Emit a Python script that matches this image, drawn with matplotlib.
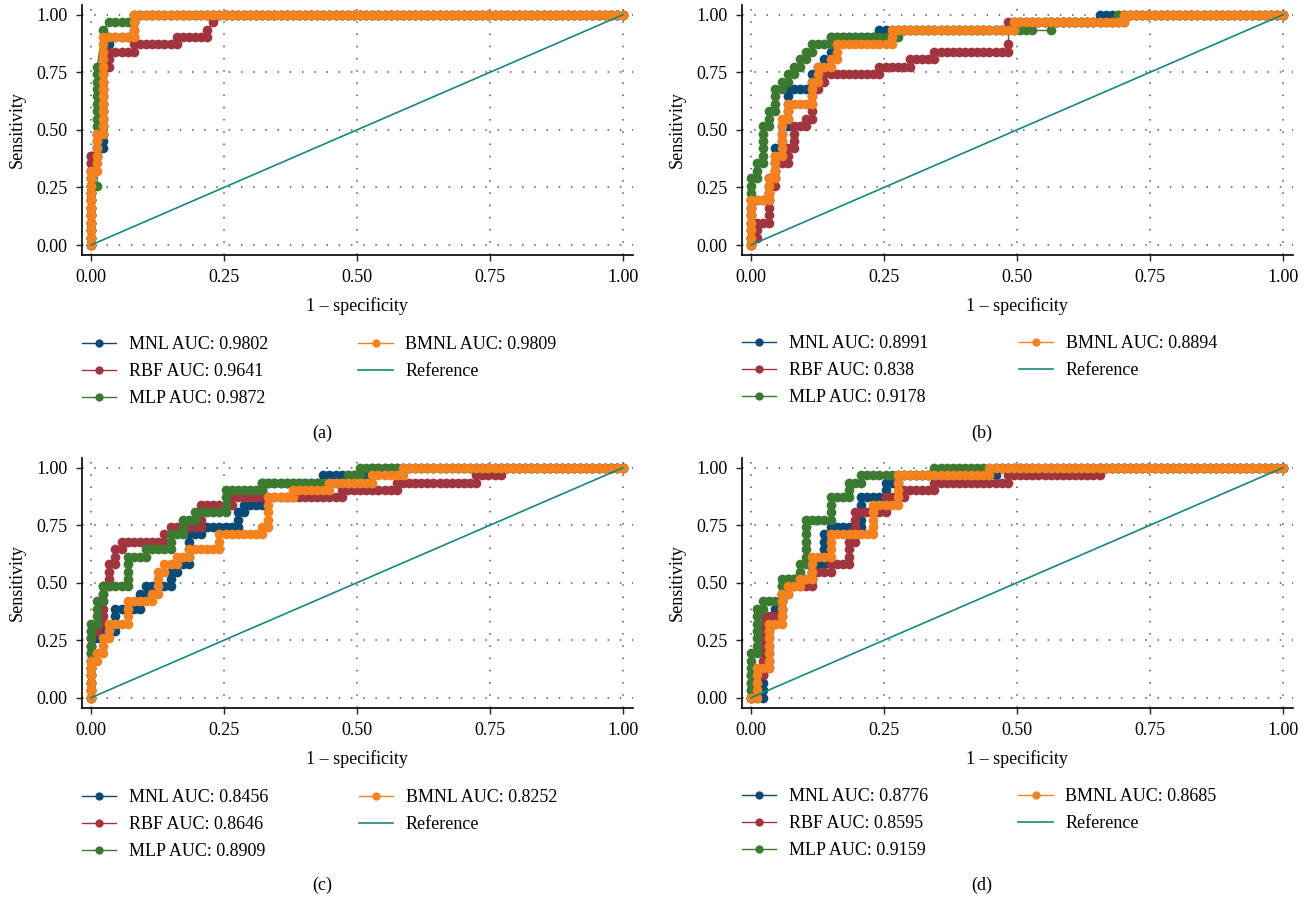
import numpy as np
import matplotlib
matplotlib.use("Agg")
import matplotlib.pyplot as plt

"""
ROC curves of the four classifiers (MNL, RBF, MLP, BMNL) for the four
outcome categories, one panel per category.
Each curve is stored as run-length encoded steps through the ranked
test cases: (repeat, d_negatives, d_positives).
"""

N_NEG = 87
N_POS = 31

models = ["MNL", "RBF", "MLP", "BMNL"]
colors = ["#0b4a75", "#a0353f", "#3b7a30", "#f4821f"]
ref_color = "#17867e"

# panel (a)
mnl_a = [(12, 0, 1), (1, 1, 0), (1, 0, 1), (1, 1, 0), (13, 0, 1), (1, 1, 0), (2, 0, 1),
         (4, 1, 0), (3, 0, 1), (80, 1, 0)]
rbf_a = [(12, 0, 1), (1, 1, 0), (3, 0, 1), (1, 1, 0), (9, 0, 1), (1, 1, 0), (2, 0, 1),
         (4, 1, 0), (1, 0, 1), (7, 1, 0), (1, 0, 1), (5, 1, 0), (1, 0, 1), (1, 1, 1),
         (1, 0, 1), (67, 1, 0)]
mlp_a = [(8, 0, 1), (1, 1, 0), (1, 0, 7), (9, 0, 1), (1, 1, 5), (1, 1, 1), (4, 1, 0),
         (1, 0, 1), (80, 1, 0)]
bmnl_a = [(10, 0, 1), (1, 1, 0), (5, 0, 1), (1, 1, 0), (13, 0, 1), (5, 1, 0), (3, 0, 1),
          (80, 1, 0)]
auc_a = [0.9802, 0.9641, 0.9872, 0.9809]

# panel (b)
mnl_b = [(6, 0, 1), (3, 1, 0), (3, 0, 1), (1, 1, 0), (4, 0, 1), (1, 1, 0), (3, 0, 1),
         (1, 1, 0), (5, 0, 1), (4, 1, 0), (2, 0, 1), (1, 1, 0), (1, 0, 1), (1, 1, 0),
         (1, 0, 1), (1, 1, 0), (3, 0, 1), (8, 1, 0), (1, 0, 1), (22, 1, 0), (1, 0, 1),
         (14, 1, 0), (1, 0, 1), (30, 1, 0)]
rbf_b = [(1, 0, 1), (1, 1, 0), (2, 0, 1), (2, 1, 0), (5, 0, 1), (1, 1, 0), (3, 0, 1),
         (2, 1, 0), (2, 0, 1), (1, 1, 0), (3, 0, 1), (2, 1, 0), (1, 0, 1), (1, 1, 0),
         (4, 0, 1), (1, 1, 0), (1, 0, 1), (1, 1, 0), (1, 0, 1), (9, 1, 0), (1, 0, 1),
         (5, 1, 0), (1, 0, 1), (4, 1, 0), (1, 0, 1), (12, 1, 0), (1, 0, 1), (1, 0, 3),
         (19, 1, 0), (1, 0, 1), (26, 1, 0)]
mlp_b = [(9, 0, 1), (1, 1, 0), (2, 0, 1), (1, 1, 0), (5, 0, 1), (1, 1, 0), (2, 0, 1),
         (1, 1, 0), (3, 0, 1), (1, 1, 0), (1, 0, 1), (1, 1, 0), (1, 0, 1), (1, 1, 0),
         (1, 0, 1), (1, 1, 0), (1, 0, 1), (1, 1, 0), (1, 0, 1), (1, 1, 0), (1, 0, 1),
         (3, 1, 0), (1, 0, 1), (11, 1, 0), (1, 0, 1), (22, 1, 0), (1, 3, 0), (1, 0, 1),
         (11, 1, 0), (1, 0, 1), (27, 1, 0)]
bmnl_b = [(6, 0, 1), (3, 1, 0), (3, 0, 1), (1, 1, 0), (3, 0, 1), (1, 1, 0), (5, 0, 1),
          (1, 1, 0), (2, 0, 1), (4, 1, 0), (3, 0, 1), (1, 1, 0), (2, 0, 1), (2, 1, 0),
          (1, 0, 1), (1, 1, 0), (2, 0, 1), (9, 1, 0), (2, 0, 1), (20, 1, 0), (1, 0, 1),
          (18, 1, 0), (1, 0, 1), (26, 1, 0)]
auc_b = [0.8991, 0.838, 0.9178, 0.8894]

# panel (c)
mnl_c = [(8, 0, 1), (1, 1, 0), (1, 0, 1), (3, 1, 0), (3, 0, 1), (4, 1, 0), (2, 0, 1),
         (1, 1, 0), (1, 0, 1), (4, 1, 0), (2, 0, 1), (1, 1, 0), (1, 0, 1), (2, 1, 0),
         (4, 0, 1), (2, 1, 0), (1, 0, 1), (6, 1, 0), (2, 0, 1), (1, 1, 0), (1, 0, 1),
         (3, 1, 0), (3, 0, 1), (10, 1, 0), (1, 0, 1), (8, 1, 0), (1, 0, 1), (41, 1, 0)]
rbf_c = [(9, 0, 1), (1, 1, 0), (1, 0, 1), (1, 1, 0), (5, 0, 1), (1, 1, 0), (3, 0, 1),
         (1, 1, 0), (2, 0, 1), (1, 1, 0), (1, 0, 1), (7, 1, 0), (1, 0, 1), (1, 1, 0),
         (1, 0, 1), (5, 1, 0), (3, 0, 1), (5, 1, 0), (1, 0, 1), (18, 1, 0), (1, 0, 1),
         (9, 1, 0), (1, 0, 1), (13, 1, 0), (1, 0, 1), (4, 1, 0), (1, 0, 1), (20, 1, 0)]
mlp_c = [(10, 0, 1), (1, 1, 0), (3, 0, 1), (1, 1, 0), (2, 0, 1), (4, 1, 0), (4, 0, 1),
         (3, 1, 0), (1, 0, 1), (4, 1, 0), (2, 0, 1), (2, 1, 0), (2, 0, 1), (2, 1, 0),
         (1, 0, 1), (5, 1, 0), (3, 0, 1), (6, 1, 0), (1, 0, 1), (14, 1, 0), (1, 0, 1),
         (2, 1, 0), (1, 0, 1), (43, 1, 0)]
bmnl_c = [(5, 0, 1), (1, 1, 0), (1, 0, 1), (1, 1, 0), (2, 0, 1), (1, 1, 0), (2, 0, 1),
          (3, 1, 0), (3, 0, 1), (4, 1, 0), (1, 0, 1), (1, 1, 0), (3, 0, 1), (1, 1, 0),
          (1, 0, 1), (2, 1, 0), (1, 0, 1), (2, 1, 0), (1, 0, 1), (5, 1, 0), (2, 0, 1),
          (7, 1, 0), (1, 0, 1), (1, 1, 0), (4, 0, 1), (4, 1, 0), (1, 0, 1), (6, 1, 0),
          (1, 0, 1), (7, 1, 0), (1, 0, 1), (5, 1, 0), (1, 0, 1), (36, 1, 0)]
auc_c = [0.8456, 0.8646, 0.8909, 0.8252]

# panel (d)
mnl_d = [(2, 1, 0), (4, 0, 1), (1, 1, 0), (6, 0, 1), (1, 1, 0), (2, 0, 1), (1, 1, 0),
         (2, 0, 1), (1, 1, 0), (2, 0, 1), (4, 1, 0), (2, 0, 1), (2, 1, 0), (4, 0, 1),
         (1, 1, 0), (1, 0, 1), (5, 1, 0), (4, 0, 1), (4, 1, 0), (2, 0, 1), (2, 1, 0),
         (1, 0, 1), (16, 1, 0), (1, 0, 1), (47, 1, 0)]
rbf_d = [(3, 0, 1), (2, 1, 0), (8, 0, 1), (3, 1, 0), (4, 0, 1), (5, 1, 0), (2, 0, 1),
         (3, 1, 0), (1, 0, 1), (3, 1, 0), (3, 0, 1), (1, 1, 0), (4, 0, 1), (5, 1, 0),
         (2, 0, 1), (3, 1, 0), (1, 0, 1), (5, 1, 0), (1, 0, 1), (12, 1, 0), (1, 0, 1),
         (15, 1, 0), (1, 0, 1), (30, 1, 0)]
mlp_d = [(6, 0, 1), (1, 1, 0), (6, 0, 1), (1, 1, 0), (1, 0, 1), (3, 1, 0), (3, 0, 1),
         (3, 1, 0), (2, 0, 1), (1, 1, 0), (6, 0, 1), (4, 1, 0), (3, 0, 1), (3, 1, 0),
         (2, 0, 1), (2, 1, 0), (1, 0, 1), (12, 1, 0), (1, 0, 1), (57, 1, 0)]
bmnl_d = [(1, 1, 0), (4, 0, 1), (2, 1, 0), (6, 0, 1), (2, 1, 0), (4, 0, 1), (1, 1, 0),
          (1, 0, 1), (2, 1, 0), (1, 0, 1), (2, 1, 0), (3, 0, 1), (3, 1, 0), (3, 0, 1),
          (7, 1, 0), (4, 0, 1), (4, 1, 0), (4, 0, 1), (15, 1, 0), (1, 0, 1), (48, 1, 0)]
auc_d = [0.8776, 0.8595, 0.9159, 0.8685]

panels = [
    ("(a)", [mnl_a, rbf_a, mlp_a, bmnl_a], auc_a),
    ("(b)", [mnl_b, rbf_b, mlp_b, bmnl_b], auc_b),
    ("(c)", [mnl_c, rbf_c, mlp_c, bmnl_c], auc_c),
    ("(d)", [mnl_d, rbf_d, mlp_d, bmnl_d], auc_d),
]

ticks = [0.0, 0.25, 0.5, 0.75, 1.0]

plt.rcParams["font.family"] = ["Liberation Serif", "DejaVu Serif"]

W, H = 1314, 902
FS = 13


def roc_points(runs):
    """Expand run-length steps into (1 - specificity, sensitivity) points."""
    steps = []
    for n, dx, dy in runs:
        steps += [(dx, dy)] * n
    xy = np.vstack([[0, 0], np.cumsum(steps, axis=0)])
    assert xy[-1, 0] == N_NEG and xy[-1, 1] == N_POS, xy[-1]
    return xy[:, 0] / N_NEG, xy[:, 1] / N_POS


def px_rect(left, top, right, bottom):
    return [left / W, 1 - bottom / H, (right - left) / W, (bottom - top) / H]


def draw_panel(fig, rect, curves, aucs, caption, legend_xy, caption_xy):
    ax = fig.add_axes(px_rect(*rect))
    for name, runs, auc, c in zip(models, curves, aucs, colors):
        fpr, tpr = roc_points(runs)
        ax.plot(fpr, tpr, '-o', color=c, lw=1.0, ms=7.0, mew=0,
                label=f"{name} AUC: {auc:g}")
    ax.plot([0, 1], [0, 1], '-', color=ref_color, lw=1.2, label="Reference")

    ax.set_xlim(-0.0175, 1.0188)
    ax.set_ylim(-0.0434, 1.0421)
    ax.set_xticks(ticks)
    ax.set_yticks(ticks)
    ax.set_xticklabels([f"{t:.2f}" for t in ticks])
    ax.set_yticklabels([f"{t:.2f}" for t in ticks])
    ax.tick_params(labelsize=FS, length=4, width=1.0, pad=6, color="#222222")
    for s in ["top", "right"]:
        ax.spines[s].set_visible(False)
    for s in ["left", "bottom"]:
        ax.spines[s].set_linewidth(1.2)
    ax.grid(True, color="#555555", lw=1.1, linestyle=(0, (1, 7)))
    ax.set_axisbelow(True)
    ax.set_xlabel("1 – specificity", fontsize=FS, labelpad=8)
    ax.set_ylabel("Sensitivity", fontsize=FS, labelpad=8)

    handles, labels = ax.get_legend_handles_labels()
    fig.legend(handles, labels, loc="upper left", ncol=2, frameon=False,
               bbox_to_anchor=(legend_xy[0] / W, 1 - legend_xy[1] / H),
               fontsize=FS, handlelength=1.9, handletextpad=0.7,
               columnspacing=5.0, labelspacing=0.56, borderpad=0,
               borderaxespad=0, markerscale=0.85)
    fig.text(caption_xy[0] / W, 1 - caption_xy[1] / H, caption,
             ha="center", va="center", fontsize=FS)
    return ax


fig = plt.figure(figsize=(W / 100, H / 100), dpi=100)

rects = [(81.7, 5, 633, 255), (741.7, 5, 1293, 255),
         (81.7, 458, 633, 707.7), (741.7, 458, 1293, 707.7)]
legend_pos = [(82, 336), (742, 335), (82, 789), (742, 788)]
caption_pos = [(322, 433), (982, 433), (322, 885), (982, 885)]

for (cap, curves, aucs), rect, lpos, cpos in zip(panels, rects, legend_pos, caption_pos):
    draw_panel(fig, rect, curves, aucs, cap, lpos, cpos)

fig.savefig("out.png", dpi=100)
